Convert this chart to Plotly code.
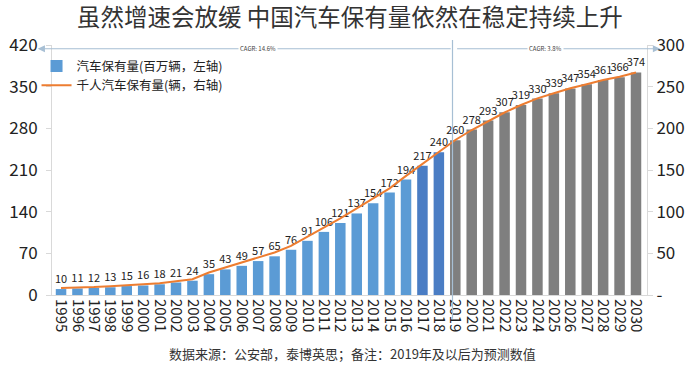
import plotly.graph_objects as go

years = list(range(1995, 2031))
vehicles = [10, 11, 12, 13, 15, 16, 18, 21, 24, 35, 43, 49, 57, 65, 76, 91, 106, 121,
            137, 154, 172, 194, 217, 240, 260, 278, 293, 307, 319, 330, 339, 347, 354,
            361, 366, 374]
per_thousand = [8.4, 8.8, 9.5, 10.5, 11.5, 12.8, 14.2, 16.5, 19, 27, 33, 38.5, 44.5, 51,
                59, 70, 81, 92, 104, 116, 128, 143, 157, 171, 186, 198, 209, 219, 228,
                236, 242, 248, 253, 258, 262, 267]
left_ticks = [0, 70, 140, 210, 280, 350, 420]
right_ticks = [0, 50, 100, 150, 200, 250, 300]
right_ticktext = ["-", "50", "100", "150", "200", "250", "300"]

bar_colors = []
for y in years:
    if y >= 2019:
        bar_colors.append("#7F7F7F")
    elif y >= 2017:
        bar_colors.append("#4A7DC4")
    else:
        bar_colors.append("#5B9BD5")

FONT = "Noto Sans CJK SC, Noto Sans, sans-serif"

fig = go.Figure()
fig.add_trace(go.Bar(
    x=years, y=vehicles, name="汽车保有量(百万辆，左轴)",
    marker=dict(color=bar_colors, line=dict(width=0)),
    text=[str(v) for v in vehicles], textposition="outside",
    textfont=dict(size=11, color="#222222", family=FONT),
    cliponaxis=False, constraintext="none",
))
fig.add_trace(go.Scatter(
    x=years, y=per_thousand, name="千人汽车保有量(辆，右轴)", yaxis="y2",
    mode="lines", line=dict(color="#ED7D31", width=2),
))

ac = "#A7BFD4"
# vertical divider at 2019
fig.add_shape(type="line", xref="x", yref="paper", x0=2018.83, x1=2018.83,
              y0=-0.095, y1=1.02, line=dict(color=ac, width=1.2))
# CAGR arrows
fig.add_annotation(xref="paper", yref="paper", x=-0.024, y=0.985, ax=416, ay=0,
                   text=" ", showarrow=True, arrowhead=2, arrowsize=1.2, arrowwidth=1.2,
                   arrowcolor=ac)
fig.add_annotation(xref="paper", yref="paper", x=1.022, y=0.985, ax=-206, ay=0,
                   text=" ", showarrow=True, arrowhead=2, arrowsize=1.2, arrowwidth=1.2,
                   arrowcolor=ac)
fig.add_annotation(xref="paper", yref="paper", x=(258 - 52) / 595, y=0.985,
                   xanchor="center", yanchor="middle",
                   text="CAGR: 14.6%", showarrow=False, bgcolor="white",
                   font=dict(size=6, color="#404040", family=FONT))
fig.add_annotation(xref="paper", yref="paper", x=(545 - 52) / 595, y=0.985,
                   xanchor="center", yanchor="middle",
                   text="CAGR: 3.8%", showarrow=False, bgcolor="white",
                   font=dict(size=6, color="#404040", family=FONT))
# footer
fig.add_annotation(xref="paper", yref="paper", x=(352 - 52) / 595, y=(294 - 352) / 250,
                   xanchor="center", yanchor="middle",
                   text="数据来源：公安部，泰博英思；备注：2019年及以后为预测数值",
                   showarrow=False, font=dict(size=13, color="#333333", family=FONT))

fig.update_layout(
    width=700, height=368,
    margin=dict(l=52, r=53, t=45, b=73),
    paper_bgcolor="white", plot_bgcolor="white",
    title=dict(text="虽然增速会放缓 中国汽车保有量依然在稳定持续上升",
               x=0.5, xanchor="center", y=1 - 18 / 368, yanchor="middle",
               font=dict(size=23.5, color="#333333", family=FONT)),
    bargap=0.36,
    font=dict(family=FONT),
    showlegend=True,
    legend=dict(x=-0.026, y=0.975, xanchor="left", yanchor="top",
                bgcolor="rgba(0,0,0,0)", font=dict(size=12.5, color="#222222", family=FONT),
                tracegroupgap=0),
    xaxis=dict(range=[1994.45, 2030.67], tickmode="array", tickvals=years,
               ticktext=[str(y) for y in years], tickangle=90,
               tickfont=dict(size=15, color="#222222", family=FONT),
               showline=True, linecolor="#D9D9D9", linewidth=1,
               showgrid=False, zeroline=False, ticks="", automargin=False),
    yaxis=dict(range=[0, 420], tickmode="array", tickvals=left_ticks,
               tickfont=dict(size=17, color="#222222", family=FONT),
               showline=True, linecolor="#D9D9D9", linewidth=1, ticks="outside",
               ticklen=5, tickcolor="#D9D9D9", showgrid=False, zeroline=False,
               automargin=False, ticklabelstandoff=5),
    yaxis2=dict(range=[0, 300], overlaying="y", side="right", tickmode="array",
                tickvals=right_ticks, ticktext=right_ticktext,
                tickfont=dict(size=17, color="#222222", family=FONT),
                showline=True, linecolor="#D9D9D9", linewidth=1, ticks="outside",
                ticklen=5, tickcolor="#D9D9D9", showgrid=False, zeroline=False,
                automargin=False),
    barmode="group",
)

fig.write_html("out.html", config={"displayModeBar": False},
               post_script="document.body.style.margin='0';")
